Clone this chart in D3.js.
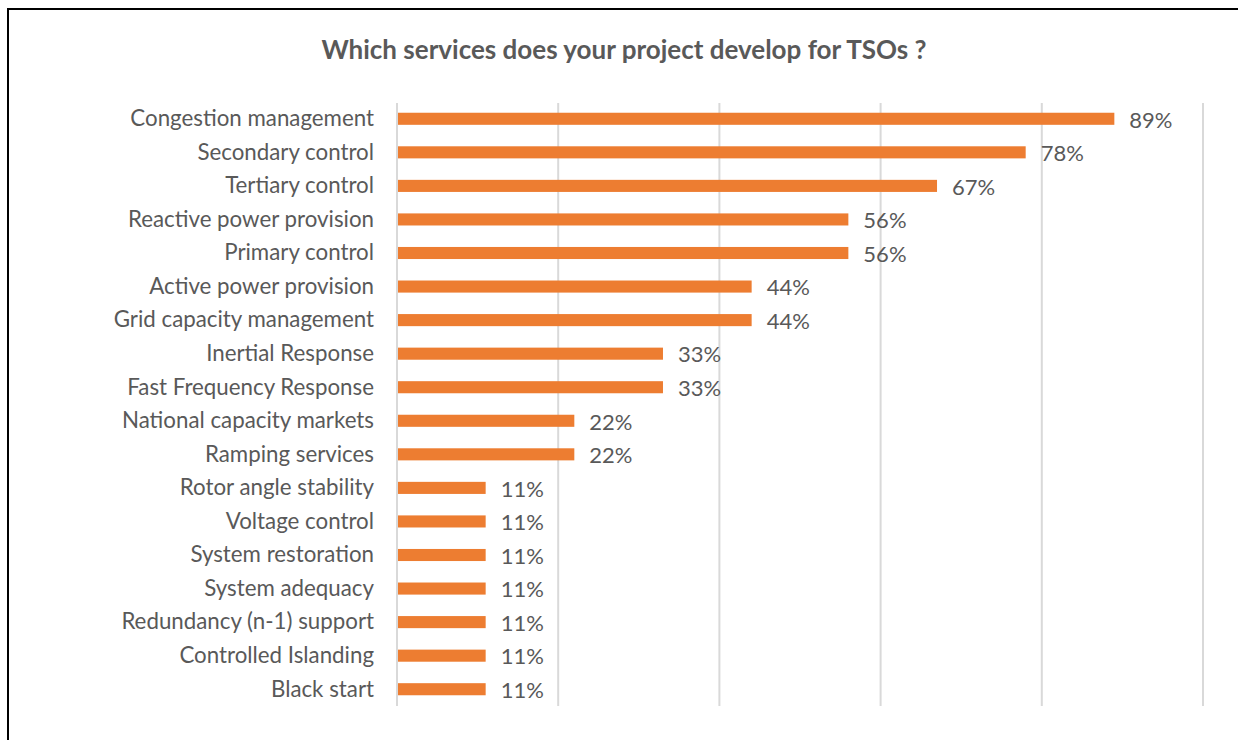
<!DOCTYPE html>
<html><head><meta charset="utf-8">
<script src="https://cdn.jsdelivr.net/npm/d3@7"></script>
<style>html,body{margin:0;padding:0;background:#fff;}svg{display:block;}</style>
</head><body>
<svg id="chart" width="1238" height="740"></svg>
<script>
const categories = ["Congestion management","Secondary control","Tertiary control","Reactive power provision","Primary control","Active power provision","Grid capacity management","Inertial Response","Fast Frequency Response","National capacity markets","Ramping services","Rotor angle stability","Voltage control","System restoration","System adequacy","Redundancy (n-1) support","Controlled Islanding","Black start"];
const values = [89,78,67,56,56,44,44,33,33,22,22,11,11,11,11,11,11,11];
const xTicks = [0,20,40,60,80,100];
const title = "Which services does your project develop for TSOs ?";

const svg = d3.select("#chart");
const font = "Lato, 'Open Sans', sans-serif";
// frame
svg.append("line").attr("x1",8).attr("x2",1238).attr("y1",9).attr("y2",9).attr("stroke","#000").attr("stroke-width",2);
svg.append("line").attr("x1",8).attr("x2",8).attr("y1",8).attr("y2",740).attr("stroke","#000").attr("stroke-width",2);

const x = d3.scaleLinear().domain([0,100]).range([397,1203]);
const y = d3.scaleBand().domain(categories).range([102,706]).paddingInner(0.64).paddingOuter(0.32);

// gridlines
svg.append("g").selectAll("line").data(xTicks).join("line")
  .attr("x1",d=>x(d)).attr("x2",d=>x(d)).attr("y1",103).attr("y2",706)
  .attr("stroke","#d9d9d9").attr("stroke-width",2);

// bars
svg.append("g").selectAll("rect").data(values).join("rect")
  .attr("x",x(0)+1).attr("y",(d,i)=>y(categories[i]))
  .attr("width",d=>x(d)-x(0)-1).attr("height",y.bandwidth())
  .attr("fill","#ED7D31");

// category labels
svg.append("g").selectAll("text").data(categories).join("text")
  .attr("x",374).attr("y",d=>y(d)+y.bandwidth()/2).attr("dy","0.33em")
  .attr("text-anchor","end").attr("fill","#595959")
  .style("font-family",font).style("font-size","22.3px").text(d=>d);

// value labels
svg.append("g").selectAll("text").data(values).join("text")
  .attr("x",d=>x(d)+15).attr("y",(d,i)=>y(categories[i])+y.bandwidth()/2).attr("dy","0.4em")
  .attr("fill","#595959")
  .style("font-family",font).style("font-size","22px").text(d=>d+"%");

svg.append("text").attr("x",624).attr("y",50).attr("dy","0.35em").attr("text-anchor","middle")
  .attr("fill","#595959").style("font-family",font).style("font-weight","bold").style("font-size","26px").text(title);
</script>
</body></html>
